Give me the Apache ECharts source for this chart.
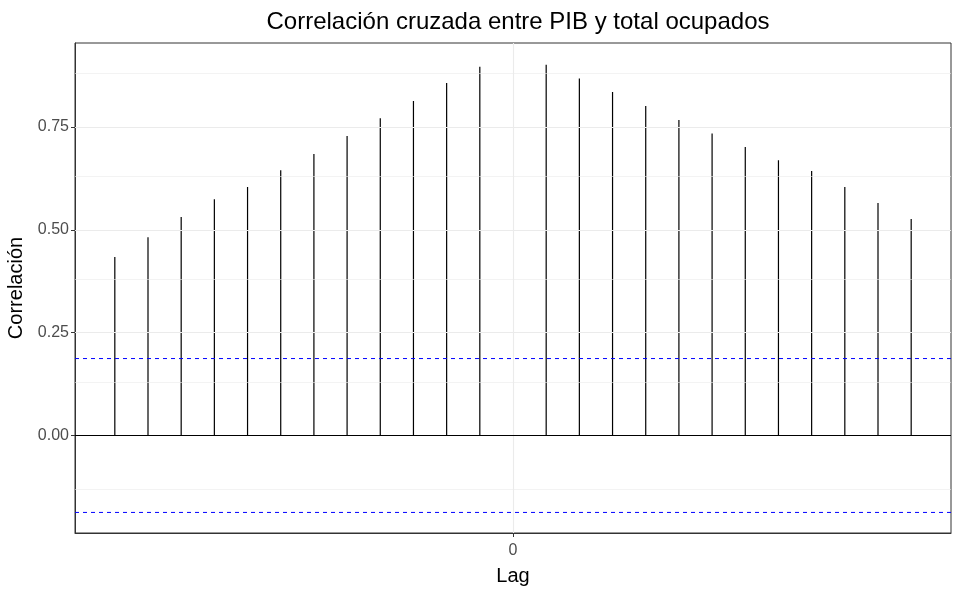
<!DOCTYPE html>
<html>
<head>
<meta charset="utf-8">
<script src="https://cdn.jsdelivr.net/npm/echarts@6/dist/echarts.min.js"></script>
<style>html,body{margin:0;padding:0;background:#fff}#c{width:962px;height:594px}</style>
</head>
<body>
<div id="c"></div>
<script>
// Data
const lags = [-12,-11,-10,-9,-8,-7,-6,-5,-4,-3,-2,-1,1,2,3,4,5,6,7,8,9,10,11,12];
const correlations = [0.434,0.482,0.531,0.574,0.604,0.645,0.684,0.728,0.771,0.813,0.857,0.896,
                      0.901,0.868,0.835,0.801,0.767,0.734,0.701,0.669,0.643,0.604,0.565,0.526];
const yTicks = [0, 0.25, 0.5, 0.75];
const yMinorGrid = [-0.125, 0.125, 0.375, 0.625, 0.875];
const xTicks = [0];
const confLimit = 0.187;
const xRange = [-13.2, 13.2];
const yRange = [-0.237, 0.954];

const FONT = "'Liberation Sans', Arial, sans-serif";
const chart = echarts.init(document.getElementById('c'), null, {renderer: 'canvas'});

const gridLines = [];
yTicks.forEach(v => gridLines.push({yAxis: v, lineStyle: {color: '#ebebeb', width: 1.1, type: 'solid'}}));
yMinorGrid.forEach(v => gridLines.push({yAxis: v, lineStyle: {color: '#ebebeb', width: 0.6, type: 'solid'}}));
xTicks.forEach(v => gridLines.push({xAxis: v, lineStyle: {color: '#ebebeb', width: 1.1, type: 'solid'}}));

const dashedSeries = [confLimit, -confLimit].map(v => ({
  type: 'line', z: 4, silent: true, symbol: 'none', showSymbol: false,
  data: [[xRange[0], v], [xRange[1], v]],
  lineStyle: {color: '#0000ff', width: 1, type: [4, 4]},
  itemStyle: {color: '#0000ff'}
}));

chart.setOption({
  animation: false,
  backgroundColor: '#fff',
  textStyle: {fontFamily: FONT},
  title: {
    text: 'Correlación cruzada entre PIB y total ocupados',
    left: 513, top: 5, textAlign: 'center',
    textStyle: {fontSize: 24, fontWeight: 'normal', color: '#000', fontFamily: FONT}
  },
  grid: {left: 75, right: 11, top: 43, bottom: 61, show: true, borderColor: '#333', borderWidth: 1,
         backgroundColor: 'transparent', containLabel: false, outerBoundsMode: 'none'},
  xAxis: {
    type: 'value', min: xRange[0], max: xRange[1],
    name: 'Lag', nameLocation: 'middle', nameGap: 33,
    nameTextStyle: {fontSize: 20, color: '#000', fontFamily: FONT},
    axisLine: {show: true, onZero: false, lineStyle: {color: '#333', width: 1}},
    axisTick: {show: true, length: 4, customValues: xTicks, lineStyle: {color: '#333', width: 1}},
    axisLabel: {customValues: xTicks, color: '#4d4d4d', fontSize: 16, margin: 10, fontFamily: FONT},
    splitLine: {show: false}
  },
  yAxis: {
    type: 'value', min: yRange[0], max: yRange[1],
    name: 'Correlación', nameLocation: 'middle', nameGap: 45,
    nameTextStyle: {fontSize: 20, color: '#000', fontFamily: FONT},
    axisLine: {show: true, onZero: false, lineStyle: {color: '#333', width: 1}},
    axisTick: {show: true, length: 4, customValues: yTicks, lineStyle: {color: '#333', width: 1}},
    axisLabel: {customValues: yTicks, color: '#4d4d4d', fontSize: 16, margin: 6, fontFamily: FONT,
                formatter: v => v.toFixed(2)},
    splitLine: {show: false}
  },
  series: [
    {
      type: 'line', data: [], z: 1, silent: true,
      markLine: {silent: true, symbol: ['none','none'], label: {show: false}, animation: false, data: gridLines}
    },
    {
      type: 'bar', z: 3, barWidth: 1.2, silent: true,
      itemStyle: {color: '#000'},
      data: lags.map((l, i) => [l, correlations[i]]),
      markLine: {
        silent: true, symbol: ['none','none'], label: {show: false}, animation: false,
        lineStyle: {color: '#000', width: 1.1, type: 'solid'},
        data: [{yAxis: 0}]
      }
    }
  ].concat(dashedSeries)
});
</script>
</body>
</html>
